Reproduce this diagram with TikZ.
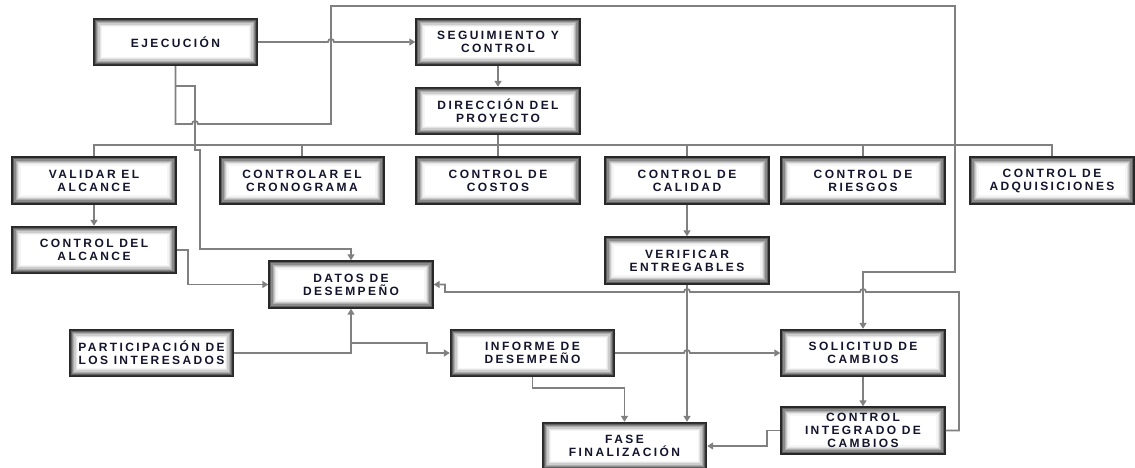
\documentclass[tikz,border=0pt]{standalone}
\usepackage{fontspec}
\setmainfont{Liberation Sans}
\newfontfamily\boxfont{Liberation Sans}[LetterSpace=20]
\usepackage{tikz}
\usetikzlibrary{
  arrows.meta,
  positioning
}
\definecolor{linegray}{RGB}{128,128,128}
\definecolor{boxedge}{RGB}{40,40,40}
\definecolor{boxtext}{RGB}{20,20,45}
\tikzset{
  >={Triangle[length=6pt,width=7pt]},
  proc/.style={draw=boxedge, line width=1.4pt, fill=white,
    minimum width=164pt, minimum height=47pt,
    align=center, text=boxtext,
    font=\boxfont\bfseries\fontsize{12}{13}\selectfont,
    path picture={
      \foreach \k/\c in {0.7/80,1.9/62,3.1/46,4.3/32,5.5/20,6.7/10,7.9/4}
        \draw[black!\c, line width=1.3pt]
          ([xshift=\k pt,yshift=\k pt]path picture bounding box.south west)
          rectangle
          ([xshift=-\k pt,yshift=-\k pt]path picture bounding box.north east);
    }},
  link/.style={draw=linegray, line width=1.8pt}
}

\begin{document}
\begin{tikzpicture}[x=1pt, y=-1pt]
    \useasboundingbox (0,0) rectangle (1135,468);

    \node[proc] (ejec) at (175.5,42) {EJECUCIÓN};
    \node[proc] (seg) at (498,42) {SEGUIMIENTO Y\\CONTROL};
    \node[proc] (dir) at (498,111) {DIRECCIÓN DEL\\PROYECTO};
    \node[proc] (val) at (94,180.5) {VALIDAR EL\\ALCANCE};
    \node[proc] (crono) at (302,180.5) {CONTROLAR EL\\CRONOGRAMA};
    \node[proc] (costos) at (498,180.5) {CONTROL DE\\COSTOS};
    \node[proc] (calidad) at (687,180.5) {CONTROL DE\\CALIDAD};
    \node[proc] (riesgos) at (863,180.5) {CONTROL DE\\RIESGOS};
    \node[proc] (adq) at (1052,180.5) {CONTROL DE\\ADQUISICIONES};
    \node[proc] (cda) at (94,250) {CONTROL DEL\\ALCANCE};
    \node[proc] (verif) at (687,260.5) {VERIFICAR\\ENTREGABLES};
    \node[proc] (datos) at (351,284.5) {DATOS DE\\DESEMPEÑO};
    \node[proc] (part) at (151.5,353) {PARTICIPACIÓN DE\\LOS INTERESADOS};
    \node[proc] (inf) at (532.5,353) {INFORME DE\\DESEMPEÑO};
    \node[proc] (sol) at (863,353) {SOLICITUD DE\\CAMBIOS};
    \node[proc] (ci) at (863,430.5) {CONTROL\\INTEGRADO DE\\CAMBIOS};
    \node[proc] (fase) at (624.5,446) {FASE\\FINALIZACIÓN};

    % bus under the direction box
    \coordinate (bus) at (498,145);
    \draw[link] (dir) -- (bus);
    \draw[link] (val.north) |- (bus) -| (adq.north);
    \foreach \b in {crono,costos,calidad,riesgos}
      \draw[link] (\b.north) -- (\b.north |- bus);

    \draw[link,->] (seg) -- (dir);
    \draw[link,->] (val) -- (cda);
    \draw[link,->] (calidad) -- (verif);
    \draw[link,->] (sol) -- (ci);
    \draw[link,->] (verif) -- (verif |- fase.north);

    \draw[link,->] (ejec.east) -- (328,42)
      arc[start angle=180, end angle=0, radius=3pt] -- (seg.west);
    \draw[link,->] (ejec.south) |- (192,124)
      arc[start angle=180, end angle=0, radius=3pt] -- (331,124)
      -- (331,6) -- (955,6) -- (955,272) -| (sol.north);
    \coordinate (split) at (175.5,86);
    \draw[link,->] (split) -| (195,150) -- (200,150) |- (351,249)
      -- (datos.north);
    \draw[link,->] (cda.east) -- (188,250) |- (datos.west);
    \draw[link,->] (part.east) -| (datos.south);
    \coordinate (pd) at (351,343);
    \draw[link,->] (pd) -- (427,343) |- (inf.west);
    \draw[link,->] (inf.east) -- (684,353)
      arc[start angle=180, end angle=0, radius=3pt] -- (sol.west);
    \draw[link,->] (inf.south) -- ++(0,11) -| (fase.north);
    \draw[link,->] (ci.west) -- (767,430.5) |- (fase.east);
    \draw[link,->] (ci.east) -- (959,430.5) -- (959,292) -- (866,292)
      arc[start angle=0, end angle=180, radius=3pt] -- (690,292)
      arc[start angle=0, end angle=180, radius=3pt] -- (445,292)
      |- (datos.east);
  \end{tikzpicture}
\end{document}
